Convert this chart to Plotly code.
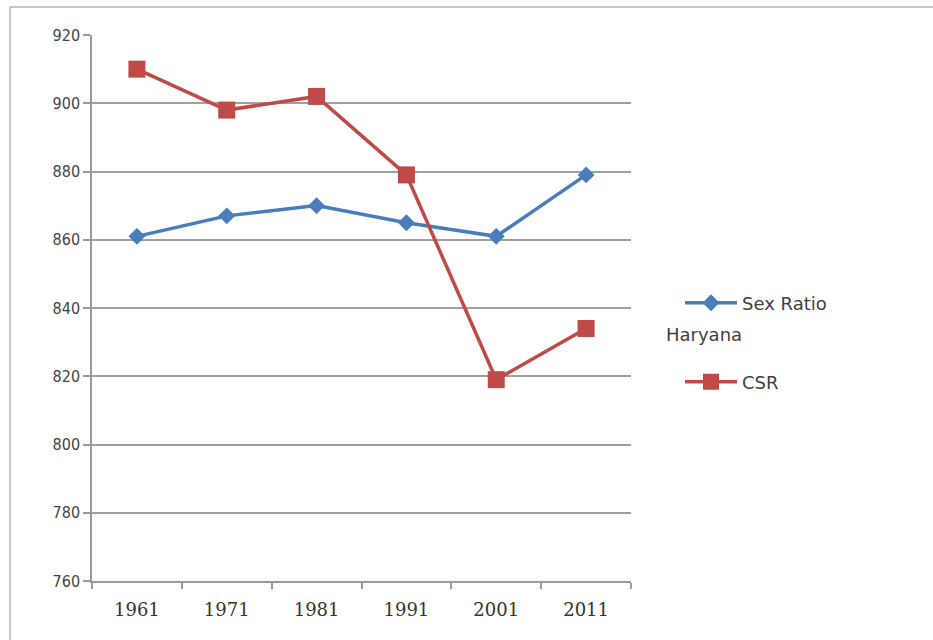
import plotly.graph_objects as go

# Census years and ratios (females per 1000 males), Haryana
years = ["1961", "1971", "1981", "1991", "2001", "2011"]
sex_ratio = [861, 867, 870, 865, 861, 879]
csr = [910, 898, 902, 879, 819, 834]
y_ticks = [760, 780, 800, 820, 840, 860, 880, 900, 920]

W, H = 933, 640
L, R, T, B = 92, 302, 35, 59
pw, ph = W - L - R, H - T - B


def px_x(x):
    return (x - L) / pw


def px_y(y):
    return (H - B - y) / ph


BLUE = "#4A7EBB"
RED = "#BE4B48"

fig = go.Figure()
fig.add_trace(go.Scatter(
    x=years, y=sex_ratio, name="Sex Ratio", mode="lines+markers",
    line=dict(color=BLUE, width=3.5),
    marker=dict(symbol="diamond", size=13, color=BLUE),
    legend="legend",
))
fig.add_trace(go.Scatter(
    x=years, y=csr, name="CSR", mode="lines+markers",
    line=dict(color=RED, width=3.5),
    marker=dict(symbol="square", size=17, color=RED),
    legend="legend2",
))

legend_font = dict(family="DejaVu Sans", size=18, color="#404040")
fig.update_layout(
    width=W, height=H,
    margin=dict(l=L, r=R, t=T, b=B, pad=0),
    paper_bgcolor="white", plot_bgcolor="white",
    showlegend=True,
    legend=dict(x=px_x(680), y=px_y(303), xanchor="left", yanchor="middle",
                font=legend_font, bgcolor="rgba(0,0,0,0)", itemwidth=52),
    legend2=dict(x=px_x(680), y=px_y(382), xanchor="left", yanchor="middle",
                 font=legend_font, bgcolor="rgba(0,0,0,0)", itemwidth=52),
    xaxis=dict(
        type="category", range=[-0.5, 5.5],
        showgrid=False, showline=True, linecolor="#9a9a9a", linewidth=1.5,
        ticks="outside", tickson="boundaries", ticklen=6, tickcolor="#9a9a9a",
        tickwidth=1.5,
        tickfont=dict(family="DejaVu Serif", size=18, color="#333333"),
        ticklabelstandoff=12,
    ),
    yaxis=dict(
        range=[760, 920], tickvals=y_ticks,
        showgrid=True, gridcolor="#a0a0a0", gridwidth=1.5,
        showline=True, linecolor="#9a9a9a", linewidth=1.5,
        ticks="outside", ticklen=7, tickcolor="#9a9a9a", tickwidth=1.5,
        tickfont=dict(family="Liberation Sans Narrow, DejaVu Sans Condensed, Liberation Sans",
                      size=16, color="#444444"),
        zeroline=False,
    ),
    annotations=[dict(
        text="Haryana", xref="paper", yref="paper",
        x=px_x(664), y=px_y(334), xanchor="left", yanchor="middle",
        showarrow=False, font=legend_font,
    )],
    shapes=[
        # outer chart frame (top and left edges)
        dict(type="line", xref="paper", yref="paper",
             x0=px_x(10), x1=px_x(940), y0=px_y(7), y1=px_y(7),
             line=dict(color="#b4b4b4", width=1.5)),
        dict(type="line", xref="paper", yref="paper",
             x0=px_x(10), x1=px_x(10), y0=px_y(7), y1=px_y(645),
             line=dict(color="#b4b4b4", width=1.5)),
    ],
)

fig.write_html("out.html")
